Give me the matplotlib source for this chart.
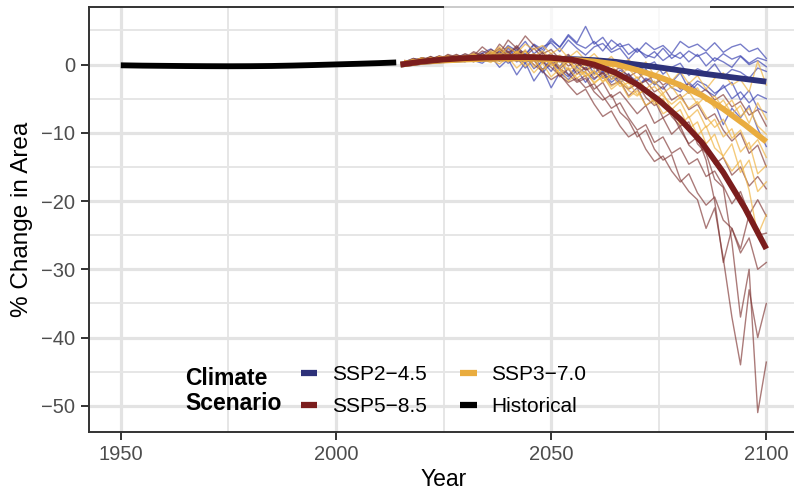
import numpy as np
import matplotlib
matplotlib.use("Agg")
import matplotlib.pyplot as plt
from matplotlib.lines import Line2D
from matplotlib.patches import Rectangle

plt.rcParams['font.family'] = ['Liberation Sans', 'DejaVu Sans']

# historical run (black)
hist_years = [1950, 1955, 1960, 1965, 1970, 1975, 1980, 1985, 1990, 1995, 2000, 2005, 2010, 2014]
hist_vals = [-0.1, -0.15, -0.18, -0.21, -0.23, -0.24, -0.23, -0.2, -0.14, -0.06, 0.03, 0.12, 0.22, 0.32]

# ensemble means (thick lines)
mean_years = [2015, 2020, 2025, 2030, 2035, 2040, 2045, 2050, 2055, 2060, 2065, 2070, 2075, 2080, 2085, 2090, 2095, 2100]
ssp245_mean = [0.0, 0.4, 0.65, 0.8, 0.9, 0.95, 0.95, 0.88, 0.8, 0.65, 0.4, 0.0, -0.4, -0.85, -1.3, -1.7, -2.1, -2.5]
ssp370_mean = [0.0, 0.4, 0.6, 0.75, 0.85, 0.9, 0.88, 0.8, 0.7, 0.45, 0.05, -0.8, -1.8, -3.0, -4.5, -6.5, -8.8, -11.3]
ssp585_mean = [0.0, 0.45, 0.75, 0.95, 1.05, 1.1, 1.1, 1.0, 0.7, 0.0, -1.2, -2.9, -5.2, -8.0, -11.4, -15.8, -21.0, -27.0]

# individual models (thin lines), every second year
model_years = list(range(2016, 2101, 2))

ssp245_models = [
    [0.3, 0.6, 0.2, 0.9, 0.5, 1.0, 0.7, 1.2, 0.8, 1.5, 1.0, 2.0, 1.2, 2.6, 1.5, 3.0, 2.2, 3.8, 2.5, 4.2, 3.0, 2.4,
     3.4, 2.0, 3.6, 2.6, 3.0, 1.8, 3.2, 2.2, 2.8, 1.6, 3.4, 2.5, 3.0, 2.0, 3.2, 1.8, 2.6, 3.0, 1.9, 2.4, 0.9],
    [0.4, 0.2, 0.8, 0.5, 1.1, 0.6, 0.9, 1.3, 0.7, 1.4, 0.9, 1.8, 0.6, 2.2, 1.4, 2.9, 1.8, 3.5, 2.6, 4.4, 3.2, 5.6,
     3.0, 4.0, 2.2, 3.1, 1.5, 2.4, 1.0, 1.9, 0.6, 1.5, 0.9, 2.0, 1.2, 1.8, 0.5, 1.6, 0.8, 1.3, 0.2, 1.0, 0.6],
    [0.2, 0.7, 0.4, 0.9, 0.3, 1.2, 0.8, 0.4, 1.4, 0.9, 1.9, 0.5, 2.4, 1.0, 0.2, 1.5, -0.8, 0.9, -0.3, 1.4, 0.2, -0.6,
     0.8, -1.2, 0.3, -0.5, 0.6, -1.0, -0.2, 0.4, -1.4, -0.4, 0.2, -1.6, -0.6, -1.2, 0.1, -1.8, -0.7, -1.1, -2.0, -0.5, -1.0],
    [0.5, 0.3, 0.9, 0.6, 0.4, 1.0, 0.5, 1.1, 0.6, 0.2, 1.2, -0.4, 0.8, -1.5, 0.3, -2.4, -0.6, -3.4, -1.2, -2.2, -0.8, -2.6,
     -1.0, -2.0, -1.6, -2.8, -1.3, -3.2, -2.0, -2.6, -3.6, -2.2, -3.0, -4.2, -2.8, -3.8, -4.6, -3.0, -5.0, -4.0, -5.6, -4.4, -5.0],
    [0.3, 0.8, 0.5, 0.2, 0.9, 0.6, 1.2, 0.7, 1.0, 1.6, 0.6, 1.4, 0.2, 1.0, -0.5, 0.8, -1.2, 0.2, -0.8, -1.8, -0.4, -1.2,
     -2.2, -1.0, -2.6, -1.6, -2.0, -3.2, -2.2, -2.8, -1.8, -3.4, -4.0, -2.6, -3.8, -4.8, -5.6, -8.8, -6.4, -7.8, -6.0, -9.4, -12.0],
    [0.4, 0.9, 0.6, 1.1, 0.5, 0.8, 1.3, 0.9, 0.4, 1.6, 1.1, 0.6, 1.8, 0.4, 1.2, -0.6, 0.5, -1.0, 0.9, -1.6, -0.2, 0.8,
     -1.4, 0.2, -2.2, -0.8, -1.6, -2.4, -0.6, -3.0, -1.8, -2.6, -1.2, -3.6, -2.4, -3.0, -4.2, -3.4, -2.6, -5.2, -3.8, -6.4, -7.0],
    [0.2, 0.5, 1.0, 0.6, 0.9, 0.4, 1.1, 1.5, 1.0, 1.7, 2.3, 1.4, 2.8, 2.0, 3.4, 1.6, 2.6, 3.2, 1.9, 3.6, 2.4, 1.4,
     2.6, 3.1, 1.8, 2.4, 0.8, 2.2, 1.4, 1.0, 2.4, 0.9, 1.8, 0.4, 1.5, -0.2, 1.0, 0.4, -0.4, 1.2, 0.0, 0.6, -0.3],
]

ssp370_models = [
    [0.3, 0.7, 0.4, 1.0, 0.6, 0.9, 1.3, 0.8, 1.5, 1.0, 2.0, 1.3, 2.6, 1.7, 3.0, 2.2, 2.8, 1.6, 2.4, 1.0, 2.0, 0.6,
     1.6, 0.2, 1.2, -0.4, 0.8, -0.9, 0.4, -1.6, -0.2, -2.4, -1.0, -2.8, -1.6, -3.6, -2.0, -1.2, -3.0, -2.2, -4.0, 0.5, -3.0],
    [0.5, 0.2, 0.8, 0.4, 1.1, 0.6, 1.0, 0.5, 1.2, 0.8, 0.3, 1.5, 0.6, 2.0, 0.9, 1.6, 0.2, 1.3, -0.4, 0.8, -1.0, 0.2,
     -1.6, -0.6, -2.2, -1.2, -2.8, -1.8, -3.6, -2.4, -4.2, -3.2, -5.0, -4.0, -5.8, -4.6, -6.4, -5.2, -7.2, -6.0, -8.6, -5.6, -8.0],
    [0.2, 0.6, 0.9, 0.5, 0.8, 1.2, 0.6, 1.0, 0.4, 1.3, 0.7, 0.1, 1.1, -0.5, 0.6, -1.2, 0.2, -1.8, -0.6, -2.4, -1.4, -1.0,
     -2.6, -1.8, -3.2, -2.4, -3.8, -4.6, -3.4, -5.4, -4.2, -6.6, -5.4, -7.8, -6.6, -9.2, -8.0, -10.6, -9.4, -12.8, -11.4, -16.0, -14.8],
    [0.4, 0.8, 0.3, 0.7, 1.0, 0.5, 0.9, 1.4, 0.8, 1.2, 1.8, 1.0, 1.6, 0.8, 1.9, 0.6, 1.2, -0.2, 0.6, -0.8, 0.0, -1.6,
     -1.0, -2.4, -1.6, -3.2, -2.6, -4.4, -3.6, -5.8, -5.0, -7.4, -6.6, -9.4, -8.4, -11.6, -10.2, -13.6, -15.6, -14.0, -18.4, -25.0, -22.0],
    [0.6, 0.3, 0.7, 1.0, 0.4, 0.8, 0.5, 1.1, 1.6, 0.9, 1.4, 2.2, 1.1, 1.8, 0.5, 1.2, 2.0, 0.8, 1.4, 0.3, 1.0, -0.2,
     0.6, -0.8, -0.2, -1.4, -0.6, -2.0, -1.2, -2.8, -1.8, -3.4, -2.6, -4.2, -3.4, -5.4, -4.6, -6.4, -5.2, -7.6, -6.4, -9.0, -10.2],
    [0.3, 0.5, 1.0, 0.6, 0.9, 1.3, 0.7, 1.1, 0.5, 1.4, 0.9, 1.7, 0.4, 1.1, -0.3, 0.7, -0.8, 0.4, -1.4, -0.4, -2.0, -1.0,
     -2.8, -1.6, -3.6, -2.6, -4.8, -3.8, -6.0, -5.0, -7.2, -6.4, -8.8, -7.6, -10.4, -9.0, -12.2, -13.4, -11.6, -15.8, -14.0, -18.6, -17.2],
    [0.5, 0.4, 0.8, 0.6, 1.2, 0.9, 0.6, 1.3, 1.0, 0.7, 1.6, 2.6, 1.4, 0.6, 2.2, -0.4, 1.0, 0.2, -1.2, 0.6, -0.6, -1.8,
     -0.8, -2.6, -1.4, -2.0, -3.4, -2.6, -4.0, -3.2, -4.6, -5.8, -4.8, -6.4, -5.4, -7.6, -9.2, -8.0, -10.8, -9.6, -12.4, -11.0, -13.6],
]

ssp585_models = [
    [0.3, 0.7, 0.5, 1.0, 0.8, 1.3, 0.9, 1.6, 1.1, 2.0, 1.4, 2.4, 1.2, 1.8, 0.6, 1.3, 0.2, 0.8, -0.6, -1.4, -2.6, -2.0,
     -4.0, -5.2, -4.4, -7.0, -8.2, -10.6, -9.6, -12.4, -14.0, -13.2, -16.8, -18.6, -19.8, -24.0, -21.0, -28.4, -37.0, -44.0, -33.0, -40.0, -35.0],
    [0.4, 0.9, 0.6, 1.2, 0.7, 1.5, 1.1, 0.8, 1.7, 1.2, 2.2, 1.6, 3.6, 2.4, 4.2, 2.8, 1.6, 2.2, 0.8, 1.5, 0.2, -0.8,
     -0.2, -1.8, -1.0, -2.6, -3.6, -2.8, -4.8, -6.0, -5.2, -7.6, -9.0, -8.4, -11.6, -13.0, -16.8, -18.0, -26.0, -37.0, -30.0, -51.0, -43.6],
    [0.2, 0.6, 0.9, 0.5, 1.0, 0.7, 1.2, 0.8, 1.4, 1.0, 0.6, 1.6, 0.9, 2.0, 1.3, 0.7, 1.8, 0.4, -0.6, 0.5, -1.4, -0.4,
     -2.0, -1.2, -3.0, -2.4, -4.6, -3.4, -6.0, -5.2, -7.8, -7.0, -9.6, -11.6, -10.6, -14.0, -20.0, -29.0, -24.0, -27.0, -22.0, -25.0, -24.7],
    [0.5, 0.3, 0.8, 1.1, 0.6, 1.4, 0.9, 1.2, 0.7, 1.5, 1.1, 3.0, 1.8, 2.4, 1.0, 1.6, 0.4, -0.4, -1.6, -2.6, -2.0, -3.4,
     -2.8, -4.6, -6.4, -5.6, -7.8, -9.6, -8.8, -11.4, -10.6, -13.0, -12.2, -14.6, -13.8, -16.4, -15.6, -17.8, -20.4, -18.6, -22.0, -19.8, -22.2],
    [0.3, 0.8, 0.4, 0.9, 1.2, 0.6, 1.1, 0.8, 1.3, 0.9, 1.8, 1.2, 2.6, 1.6, 2.0, 0.8, 1.4, 0.4, 1.0, -0.2, 0.5, -0.8,
     -0.2, -1.4, -0.6, -2.2, -1.4, -3.0, -2.4, -4.0, -3.2, -5.2, -4.4, -6.6, -5.8, -8.0, -7.2, -9.6, -11.2, -10.0, -13.0, -11.8, -15.0],
    [0.6, 0.4, 1.0, 0.7, 1.3, 0.9, 0.5, 1.2, 0.8, 1.6, 1.0, 1.4, 0.6, 1.8, 1.2, 2.4, 1.0, 1.6, 0.4, 1.2, -0.2, 0.6,
     -0.6, 0.2, -1.2, -0.4, -1.8, -1.0, -2.4, -1.6, -3.0, -2.2, -3.6, -2.8, -4.4, -3.6, -5.2, -4.4, -6.2, -5.4, -7.4, -6.6, -9.0],
    [0.4, 0.6, 1.0, 0.7, 1.2, 0.8, 1.4, 1.0, 1.9, 1.3, 0.8, 2.2, 1.5, 2.8, 1.2, 0.6, -0.8, 0.4, -1.8, -0.6, -2.4, -1.6,
     -3.6, -2.6, -4.8, -4.0, -5.6, -7.2, -6.0, -8.6, -7.8, -10.2, -9.0, -11.8, -13.0, -12.0, -14.6, -13.6, -16.2, -15.0, -17.8, -16.4, -18.2],
    [0.3, 0.8, 0.5, 1.1, 0.7, 1.0, 1.5, 0.9, 1.3, 2.6, 1.6, 1.0, 2.0, 0.6, 1.2, 0.0, -1.0, -2.2, -1.4, -3.0, -4.4, -3.6,
     -5.8, -7.6, -6.8, -9.0, -10.6, -9.8, -12.4, -14.2, -13.4, -15.6, -17.2, -16.0, -18.8, -20.6, -19.4, -22.8, -24.0, -27.6, -25.4, -30.0, -29.0],
]

scenario_labels = ["SSP2\u22124.5", "SSP5\u22128.5", "SSP3\u22127.0", "Historical"]
col_245 = "#2d3179"
col_370 = "#e9ac3f"
col_585 = "#7b1d1d"

W, H = 794, 495
fig = plt.figure(figsize=(W / 100, H / 100), dpi=100)
ax = fig.add_axes([88.5 / W, (H - 431.7) / H, (798.6 - 88.5) / W, (431.7 - 7.3) / H])

# thin model lines
for m in ssp245_models:
    ax.plot(model_years, m, color="#3f47b3", alpha=0.7, lw=1.0, zorder=3)
for m in ssp585_models:
    ax.plot(model_years, m, color="#7e3432", alpha=0.65, lw=1.0, zorder=3)
for m in ssp370_models:
    ax.plot(model_years, m, color="#f0b444", alpha=0.7, lw=1.0, zorder=3)

# thick means
ax.plot(hist_years, hist_vals, color="black", lw=4.2, solid_capstyle="butt", zorder=4)
ax.plot(mean_years, ssp245_mean, color=col_245, lw=4.2, solid_capstyle="butt", zorder=4)
ax.plot(mean_years, ssp370_mean, color=col_370, lw=4.2, solid_capstyle="butt", zorder=4)
ax.plot(mean_years, ssp585_mean, color=col_585, lw=4.2, solid_capstyle="butt", zorder=4)

ax.set_xlim(1942.5, 2107.5)
ax.set_ylim(-53.8, 8.4)
ax.set_xticks([1950, 2000, 2050, 2100])
ax.set_xticks([1975, 2025, 2075], minor=True)
ax.set_yticks([-50, -40, -30, -20, -10, 0])
ax.set_yticks([-45, -35, -25, -15, -5, 5], minor=True)
ax.grid(which="major", color="#e3e3e3", lw=2.3, zorder=0)
ax.grid(which="minor", color="#e6e6e6", lw=1.4, zorder=0)
ax.set_axisbelow(True)
ax.tick_params(which="major", length=5.5, width=1.4, color="#333333", labelsize=14.5, labelcolor="#4d4d4d", pad=4)
ax.tick_params(which="minor", length=0)
for s in ax.spines.values():
    s.set_color("#333333")
    s.set_linewidth(1.4)

ax.set_xlabel("Year", fontsize=16.5, labelpad=3)
ax.set_ylabel("% Change in Area", fontsize=17.5, labelpad=6)

# faded block near the top (as in the source image), under the lines
ax.add_artist(Rectangle((444 / W, (H - 95) / H), (710 - 444) / W, 95 / H, transform=fig.transFigure,
                        facecolor="white", edgecolor="none", alpha=0.75, zorder=2.6, clip_on=False))

# legend
handles = [Line2D([], [], color=c, lw=4.5, solid_capstyle="butt") for c in [col_245, col_585, col_370, "black"]]
fig.legend(handles, scenario_labels, ncol=2, frameon=False, fontsize=15, loc="center left",
           bbox_to_anchor=(300.8 / W, 1 - 390.5 / H), borderpad=0, handlelength=0.8, handletextpad=0.7,
           columnspacing=1.6, labelspacing=0.62, borderaxespad=0)
fig.text(185.5 / W, 1 - 378.5 / H, "Climate", fontsize=16.5, weight="bold", va="center", ha="left")
fig.text(185.5 / W, 1 - 403 / H, "Scenario", fontsize=16.5, weight="bold", va="center", ha="left")

fig.savefig("out.png", dpi=100)
